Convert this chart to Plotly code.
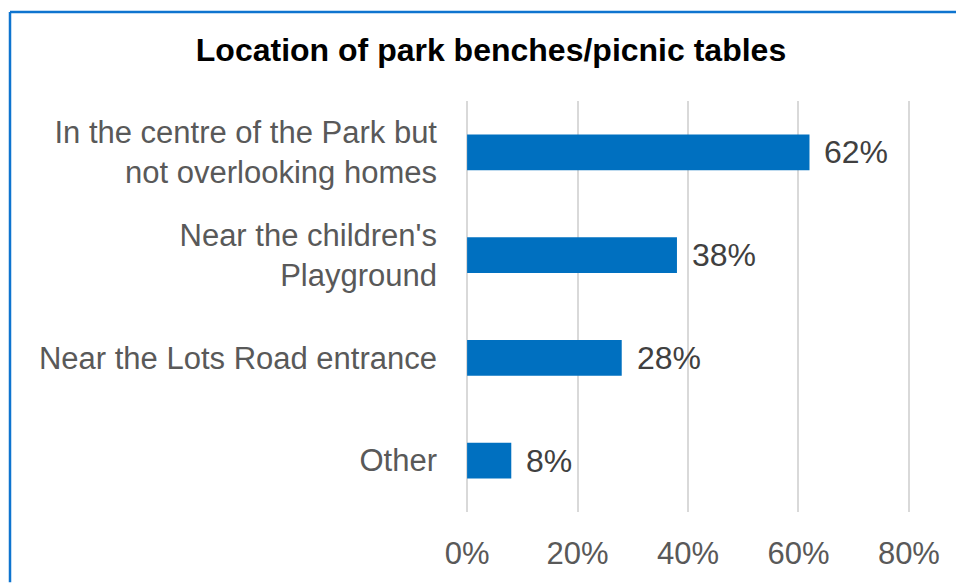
import plotly.graph_objects as go

# Chart data
categories = [
    "In the centre of the Park but<br>not overlooking homes",
    "Near the children's<br>Playground",
    "Near the Lots Road entrance",
    "Other",
]
shares = [0.62, 0.38, 0.28, 0.08]
share_labels = ["62%", "38%", "28%", "8%"]
tick_values = [0, 0.2, 0.4, 0.6, 0.8]
tick_labels = ["0%", "20%", "40%", "60%", "80%"]

W, H = 956, 583
L, R, T, B = 466, 46, 101, 66
FONT = "Liberation Sans, Arial, sans-serif"

fig = go.Figure(go.Bar(
    x=shares,
    y=categories,
    orientation="h",
    width=0.35,
    marker=dict(color="#0070C0", line=dict(width=0)),
    hoverinfo="skip",
))

# data labels to the right of each bar
for cat, val, lab in zip(categories, shares, share_labels):
    fig.add_annotation(
        x=val, y=cat, text=lab, showarrow=False,
        xanchor="left", xshift=13,
        font=dict(family=FONT, size=32, color="#404040"),
    )

# blue frame (left and top edges visible in the reference)
pw, ph = W - L - R, H - T - B
def px(x):
    return (x - L) / pw
def py(y):
    return (H - B - y) / ph
frame = dict(color="#0E74CF", width=2.5)
fig.add_shape(type="line", xref="paper", yref="paper",
              x0=px(10), x1=px(10), y0=py(11), y1=py(H + 5), line=frame)
fig.add_shape(type="line", xref="paper", yref="paper",
              x0=px(10), x1=px(W + 5), y0=py(11), y1=py(11), line=frame)

fig.update_layout(
    width=W, height=H,
    margin=dict(l=L, r=R, t=T, b=B),
    paper_bgcolor="white",
    plot_bgcolor="white",
    showlegend=False,
    title=dict(
        text="<b>Location of park benches/picnic tables</b>",
        x=491 / W, xanchor="center",
        y=1 - 50 / H, yanchor="middle",
        font=dict(family=FONT, size=32, color="#000000"),
    ),
    xaxis=dict(
        # padded a hair so the 0% and 80% gridlines are kept
        range=[-0.002, 0.802],
        tickvals=tick_values,
        ticktext=tick_labels,
        showgrid=True, gridcolor="#D9D9D9", gridwidth=1.5,
        zeroline=False, showline=False,
        ticks="", ticklabelstandoff=20,
        tickfont=dict(family=FONT, size=31, color="#595959"),
        fixedrange=True,
    ),
    yaxis=dict(
        categoryorder="array", categoryarray=categories,
        autorange="reversed",
        showgrid=False, zeroline=False, showline=False,
        ticks="", ticklabelstandoff=28,
        tickfont=dict(family=FONT, size=31, color="#595959"),
        fixedrange=True,
    ),
)

# page body has a default 8px margin; drop it so the figure sits at 0,0
fig.write_html("out.html", config={"displayModeBar": False},
               post_script="document.body.style.margin='0';")
